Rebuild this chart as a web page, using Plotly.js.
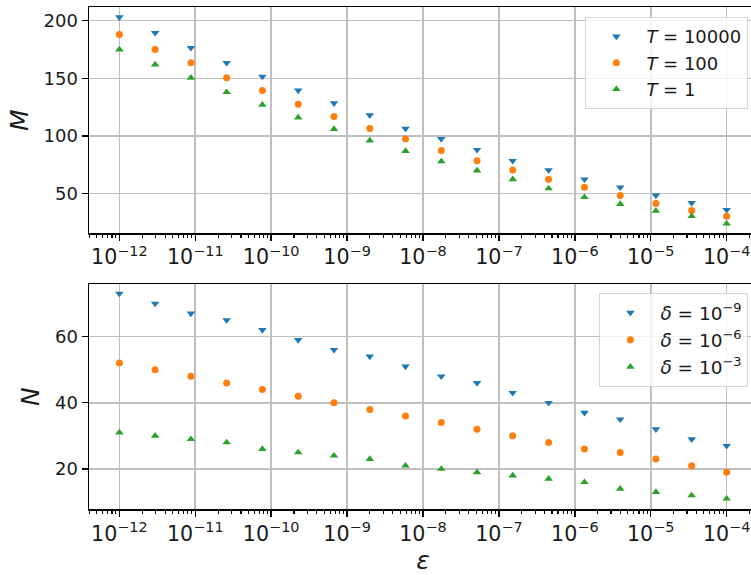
<!DOCTYPE html>
<html>
<head>
<meta charset="utf-8">
<script src="https://cdn.plot.ly/plotly-3.0.1.min.js"></script>
<style>
html, body { margin: 0; padding: 0; overflow: hidden; background: #fff; }
#chart { width: 760px; height: 575px; }
</style>
</head>
<body>
<div id="chart"></div>
<script>
// epsilon values (x)
const eps = [1e-12, 2.96e-12, 8.76e-12, 2.59e-11, 7.66e-11, 2.27e-10, 6.72e-10, 1.99e-9, 5.88e-9,
             1.74e-8, 5.15e-8, 1.52e-7, 4.51e-7, 1.34e-6, 3.96e-6, 1.17e-5, 3.46e-5, 1e-4];

// top panel: M for different T
const M_T10000 = [203, 189.5, 176.5, 163.5, 151.5, 139.5, 128.5, 118, 106.5, 97.5, 88, 78.5, 70.5, 62.5, 55.5, 48.5, 42, 36];
const M_T100   = [188, 175, 163.5, 150.5, 139.5, 127.5, 117, 106.5, 97.5, 87.5, 78.5, 70.5, 62.5, 55.5, 48.5, 41.5, 35.5, 30.5];
const M_T1     = [175, 162, 150.5, 138, 127, 116, 106, 96, 87, 78, 70, 62.5, 54.5, 47, 41, 35, 30.5, 24];

// bottom panel: N for different delta
const N_d9 = [73, 70, 67, 65, 62, 59, 56, 54, 51, 48, 46, 43, 40, 37, 35, 32, 29, 27];
const N_d6 = [52, 50, 48, 46, 44, 42, 40, 38, 36, 34, 32, 30, 28, 26, 25, 23, 21, 19];
const N_d3 = [31, 30, 29, 28, 26, 25, 24, 23, 21, 20, 19, 18, 17, 16, 14, 13, 12, 11];

const topNames = ['<i>T</i> = 10000', '<i>T</i> = 100', '<i>T</i> = 1'];
const botNames = ['<i>δ</i> = 10<sup>−9</sup>', '<i>δ</i> = 10<sup>−6</sup>', '<i>δ</i> = 10<sup>−3</sup>'];
const yTopTicks = [50, 100, 150, 200];
const yBotTicks = [20, 40, 60];

const colors = ['#1f77b4', '#ff7f0e', '#2ca02c'];
const symbols = ['triangle-down', 'circle', 'triangle-up'];
const sizes = [7.5, 7, 7.5];

const topSeries = [M_T10000, M_T100, M_T1];
const botSeries = [N_d9, N_d6, N_d3];

const traces = [];
topSeries.forEach((ys, i) => traces.push({
  x: eps, y: ys, name: topNames[i], type: 'scatter', mode: 'markers',
  marker: {color: colors[i], symbol: symbols[i], size: sizes[i]},
  xaxis: 'x', yaxis: 'y', legend: 'legend'
}));
botSeries.forEach((ys, i) => traces.push({
  x: eps, y: ys, name: botNames[i], type: 'scatter', mode: 'markers',
  marker: {color: colors[i], symbol: symbols[i], size: sizes[i]},
  xaxis: 'x2', yaxis: 'y2', legend: 'legend2'
}));

const FONT = 'DejaVu Sans, sans-serif';
const W = 760, H = 575, L = 89.4, R = 3.2;

function xax(anchor) {
  return {
    type: 'log', range: [-12.4, -3.6], domain: [0, 1], anchor: anchor,
    dtick: 1, exponentformat: 'power',
    showgrid: true, gridcolor: '#bfbfbf', gridwidth: 1.6,
    ticks: 'outside', ticklen: 6, tickwidth: 1.4, tickcolor: '#000',
    showline: true, linecolor: '#000', linewidth: 1.5, mirror: true,
    zeroline: false,
    minor: {ticks: 'outside', ticklen: 3.5, tickwidth: 1.1, tickcolor: '#000', dtick: 'D1', showgrid: false},
    tickfont: {family: FONT, size: 16.5, color: '#1a1a1a'},
    automargin: false
  };
}
function yax(anchor, domain, range, ticks, title) {
  return {
    domain: domain, range: range, anchor: anchor,
    tickmode: 'array', tickvals: ticks,
    showgrid: true, gridcolor: '#bfbfbf', gridwidth: 1.6,
    ticks: 'outside', ticklen: 6, tickwidth: 1.4, tickcolor: '#000',
    showline: true, linecolor: '#000', linewidth: 1.5, mirror: true,
    zeroline: false,
    tickfont: {family: FONT, size: 18, color: '#1a1a1a'},
    title: {text: title, font: {family: FONT, size: 25, color: '#1a1a1a'}, standoff: 8},
    automargin: false
  };
}

const xb = xax('y2');
xb.title = {text: '<i>ε</i>', font: {family: FONT, size: 25, color: '#1a1a1a'}, standoff: 11};

const layout = {
  width: W, height: H,
  margin: {l: L, r: R, t: 0, b: 0},
  paper_bgcolor: '#fff', plot_bgcolor: '#fff',
  font: {family: FONT, size: 18, color: '#1a1a1a'},
  xaxis: xax('y'),
  yaxis: yax('x', [(H - 233) / H, (H - 7.3) / H], [15.9, 211.6], yTopTicks, '<i>M</i>'),
  xaxis2: xb,
  yaxis2: yax('x2', [(H - 509.3) / H, (H - 284) / H], [7.8, 75.9], yBotTicks, '<i>N</i>'),
  legend: {
    x: (748 - L) / (W - L - R), y: (H - 17) / H, xanchor: 'right', yanchor: 'top',
    bgcolor: 'rgba(255,255,255,0.8)', bordercolor: '#d6d6d6', borderwidth: 1.2,
    font: {family: FONT, size: 18, color: '#1a1a1a'}, itemwidth: 50
  },
  legend2: {
    x: (748 - L) / (W - L - R), y: (H - 293) / H, xanchor: 'right', yanchor: 'top',
    bgcolor: 'rgba(255,255,255,0.8)', bordercolor: '#d6d6d6', borderwidth: 1.2,
    font: {family: FONT, size: 18.5, color: '#1a1a1a'}, itemwidth: 50
  },
  showlegend: true
};

Plotly.newPlot('chart', traces, layout, {staticPlot: true, displayModeBar: false});
</script>
</body>
</html>
